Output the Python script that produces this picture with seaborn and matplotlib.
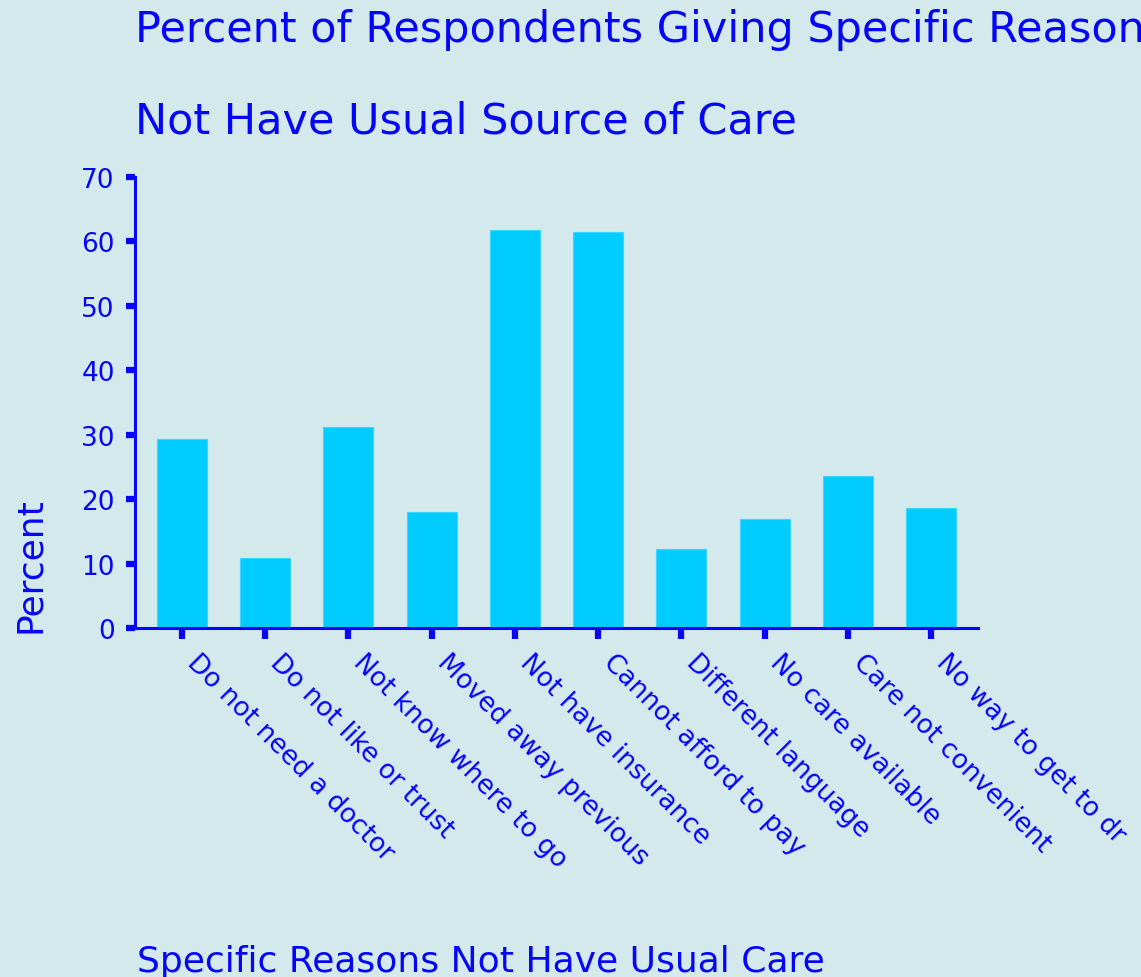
import matplotlib
matplotlib.use("Agg")
import matplotlib.pyplot as plt
import seaborn as sns
import pandas as pd

reasons = [
    "Do not need a doctor",
    "Do not like or trust",
    "Not know where to go",
    "Moved away previous",
    "Not have insurance",
    "Cannot afford to pay",
    "Different language",
    "No care available",
    "Care not convenient",
    "No way to get to dr",
]
percent = [29.3, 10.9, 31.2, 18.0, 61.8, 61.5, 12.3, 16.9, 23.6, 18.6]
y_ticks = [0, 10, 20, 30, 40, 50, 60, 70]

BG = "#D3E9EC"
BAR = "#00CCFF"
INK = "#0505FA"

sns.set_theme(style="white")
plt.rcParams["font.family"] = ["DejaVu Sans"]

df = pd.DataFrame({"reason": reasons, "percent": percent})

fig = plt.figure(figsize=(11.41, 9.78), dpi=100, facecolor=BG)
ax = fig.add_axes([135 / 1141, 1 - 629 / 978, (978 - 135) / 1141, (629 - 178) / 978])
ax.set_facecolor(BG)

sns.barplot(data=df, x="reason", y="percent", color=BAR, width=0.6,
            saturation=1, edgecolor="#3AD6FF", linewidth=0.8, ax=ax)

ax.set_xlim(-0.56, 9.56)
ax.set_ylim(0, 70)
ax.set_yticks(y_ticks)
ax.set_yticklabels([str(t) for t in y_ticks], fontsize=19, color=INK)
ax.set_xticks(range(len(reasons)))
ax.set_xticklabels(reasons, rotation=-45, ha="left", va="bottom",
                   rotation_mode="anchor", fontsize=19, color=INK)

for side in ("top", "right"):
    ax.spines[side].set_visible(False)
for side in ("left", "bottom"):
    ax.spines[side].set_color(INK)
    ax.spines[side].set_linewidth(2.2)

ax.tick_params(axis="y", left=True, direction="out", length=6.5, width=4.5,
               color=INK, pad=8)
ax.tick_params(axis="x", bottom=True, direction="out", length=8, width=4.5,
               color=INK, pad=20)
ax.set_xlabel("")
ax.set_ylabel("")

# Title runs past the right edge of the canvas
fig.text(135 / 1141, 1 - 42 / 978, "Percent of Respondents Giving Specific Reasons Did",
         fontsize=31, color=INK, ha="left", va="baseline")
fig.text(135 / 1141, 1 - 133 / 978, "Not Have Usual Source of Care",
         fontsize=31, color=INK, ha="left", va="baseline")
fig.text(30 / 1141, 1 - 565 / 978, "Percent", fontsize=26, color=INK,
         rotation=90, ha="center", va="center")
fig.text(137 / 1141, 1 - 972 / 978, "Specific Reasons Not Have Usual Care",
         fontsize=26, color=INK, ha="left", va="baseline")

fig.savefig("out.png", dpi=100, facecolor=BG)
